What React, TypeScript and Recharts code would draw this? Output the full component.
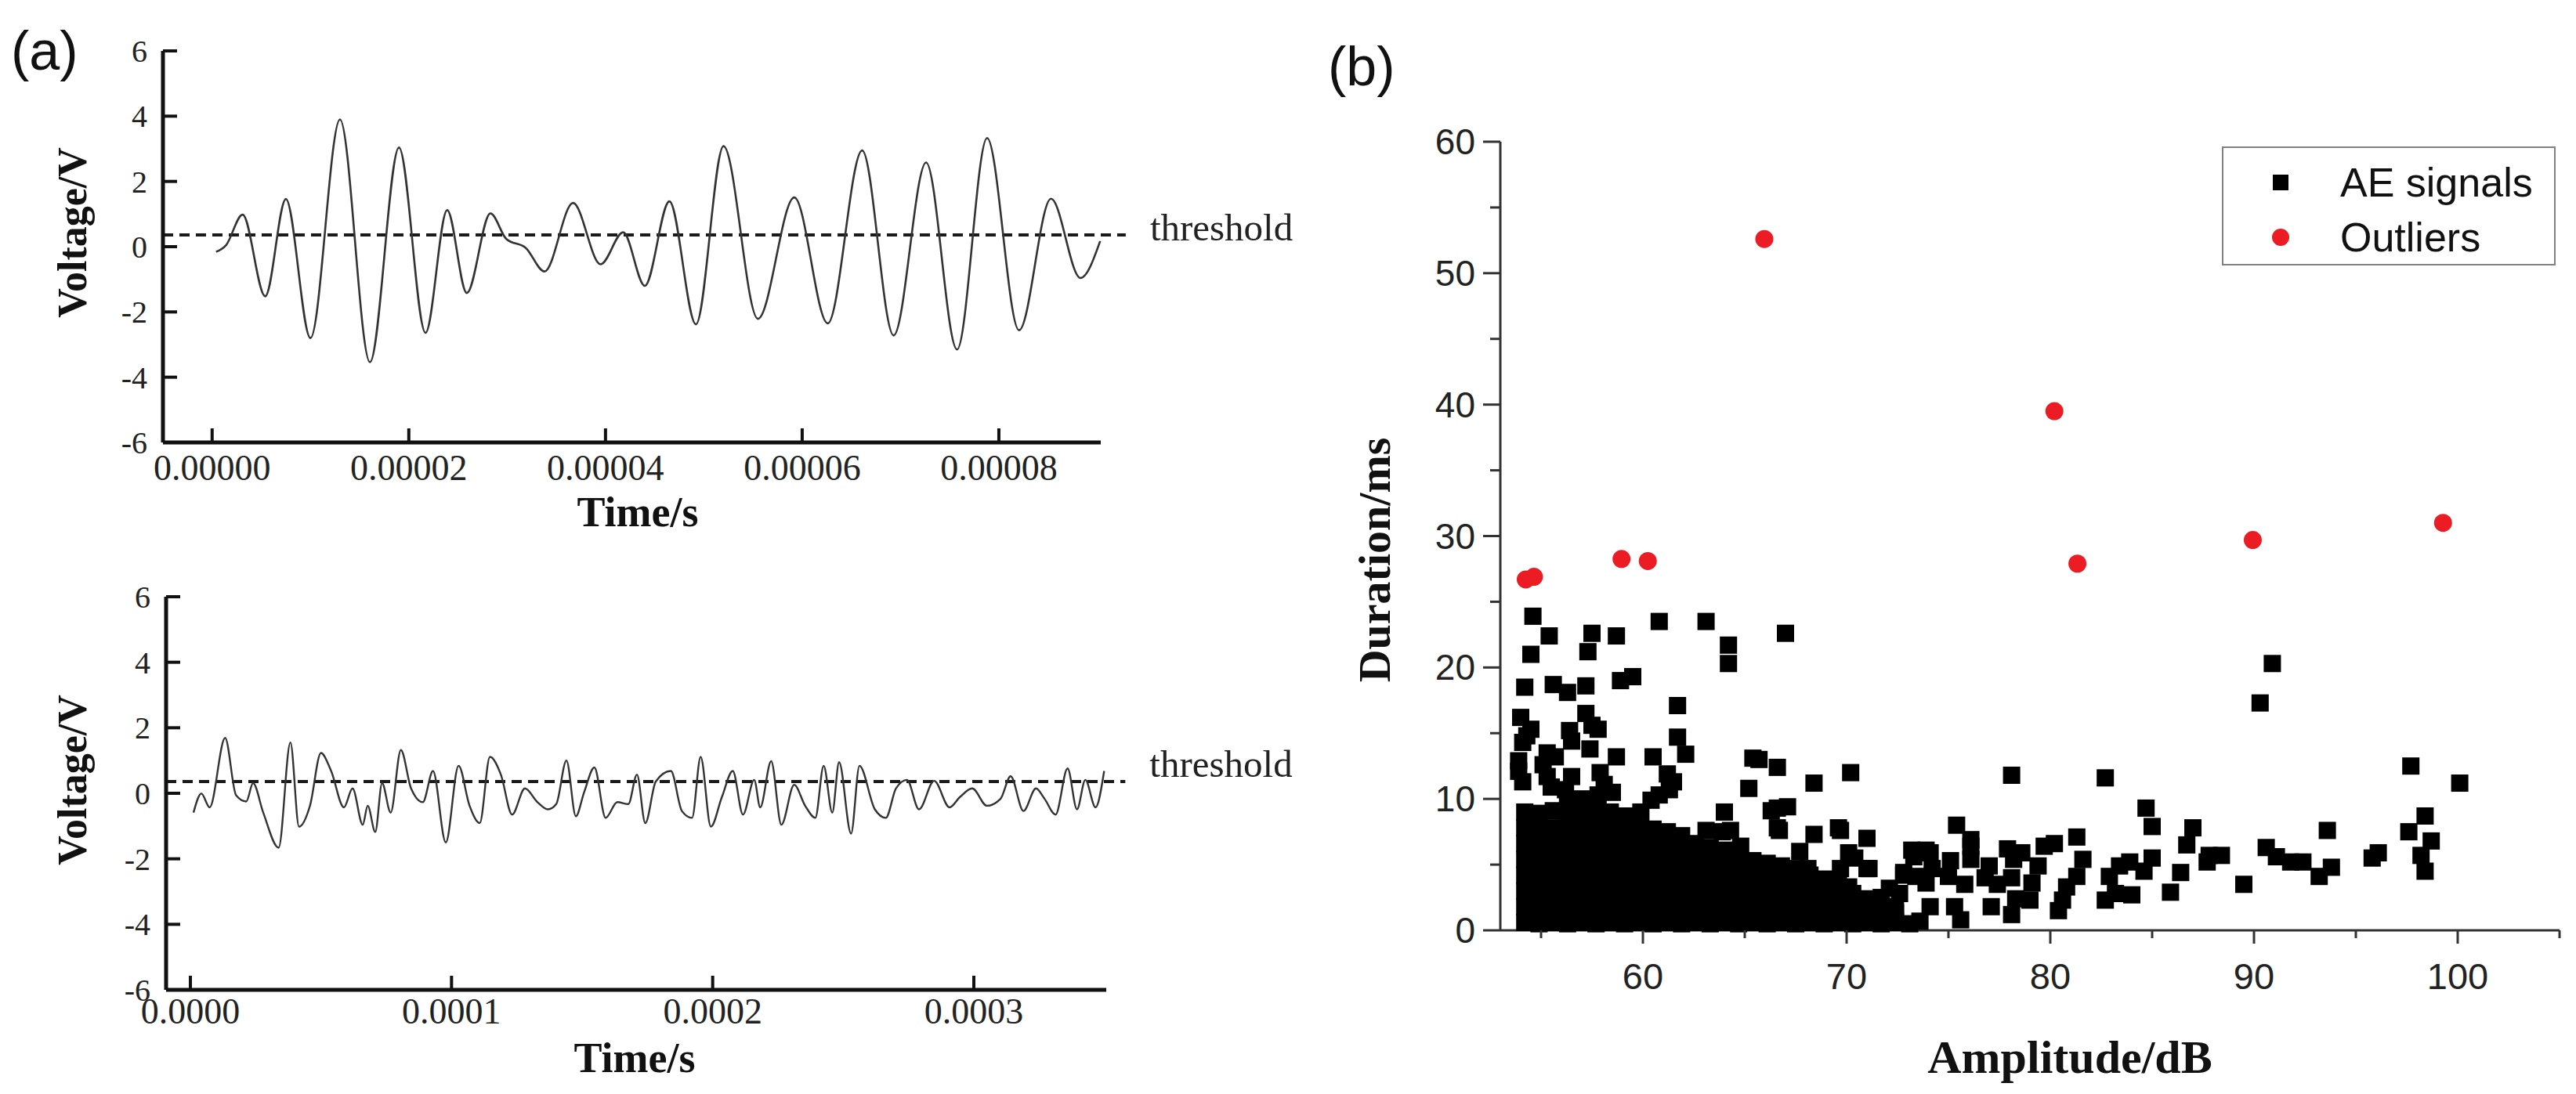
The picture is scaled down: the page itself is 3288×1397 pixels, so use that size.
import React from "react";
import {
  LineChart,
  Line,
  XAxis,
  YAxis,
  ReferenceLine,
  ScatterChart,
  Scatter,
  Legend
} from "recharts";

const SERIF = "'Liberation Serif', 'Times New Roman', serif";
const SANS = "'Liberation Sans', Arial, sans-serif";

// (a) upper waveform, time in microseconds
const topTimeUs = [
  0.4, 1.4, 3.1, 5.4, 7.5, 10.0, 13.0, 16.05, 19.0, 21.7, 23.9, 25.9, 28.3,
  29.9, 31.9, 33.8, 36.7, 39.5, 41.8, 44.0, 46.5, 49.2, 52.0, 55.5, 59.2,
  62.6, 66.1, 69.3, 72.6, 75.75, 78.8, 82.05, 85.3, 88.3, 90.3
];
const topVoltage = [
  -0.16, 0.04, 0.98, -1.52, 1.46, -2.8, 3.9, -3.54, 3.04, -2.64, 1.12, -1.42,
  1.02, 0.24, -0.04, -0.76, 1.34, -0.54, 0.44, -1.2, 1.39, -2.38, 3.08, -2.21,
  1.51, -2.35, 2.95, -2.72, 2.58, -3.15, 3.33, -2.56, 1.47, -0.96, 0.17
];

// (a) lower waveform, time in microseconds
const bottomTimeUs = [
  1.2, 4.2, 7.4, 13.3, 17.5, 21.4, 24.0, 27.9, 33.8, 38.3, 41.6, 45.8, 50.0,
  53.9, 58.8, 62.1, 66.0, 67.9, 70.8, 73.4, 76.7, 80.6, 84.5, 89.0, 92.9,
  97.8, 102.7, 106.9, 110.8, 114.7, 118.9, 123.2, 128.1, 132.9, 136.9, 140.1,
  144.0, 147.6, 150.8, 154.7, 159.0, 163.5, 167.7, 171.0, 174.2, 178.2, 184.0,
  188.2, 192.1, 195.4, 199.3, 203.5, 207.7, 211.6, 215.9, 218.2, 222.4, 226.3,
  231.2, 235.4, 239.3, 242.5, 245.8, 248.4, 253.0, 256.2, 262.1, 266.3, 270.2,
  274.4, 279.0, 284.8, 290.7, 294.6, 299.4, 305.0, 310.2, 314.1, 319.0, 323.8,
  327.1, 331.3, 335.9, 339.5, 342.7, 346.6, 349.9
];
const bottomVoltage = [
  -0.59, -0.01, -0.43, 1.69, -0.06, -0.25, 0.31, -0.59, -1.66, 1.55, -1.02,
  -0.38, 1.23, 0.68, -0.43, 0.15, -0.96, -0.38, -1.18, 0.31, -0.59, 1.32, 0.15,
  -0.27, 0.68, -1.5, 0.84, -0.38, -0.91, 1.11, 0.57, -0.65, 0.15, -0.27, -0.49,
  -0.33, 1.0, -0.7, 0.04, 0.79, -0.75, -0.27, -0.33, 0.57, -0.91, 0.36, 0.68,
  -0.54, -0.75, 1.11, -1.02, -0.12, 0.68, -0.65, 0.41, -0.43, 0.98, -0.96,
  0.26, -0.38, -0.75, 0.84, -0.59, 0.95, -1.23, 0.84, -0.49, -0.75, 0.15, 0.41,
  -0.49, 0.38, -0.43, -0.12, 0.15, -0.38, -0.17, 0.52, -0.54, 0.15, -0.17,
  -0.65, 0.76, -0.49, 0.41, -0.43, 0.68
];

const thresholdV = 0.36;
const voltTicks = [-6, -4, -2, 0, 2, 4, 6];
const topTimeTicks = [0, 20, 40, 60, 80];
const bottomTimeTicks = [0, 100, 200, 300];

// (b) AE signals: dense cluster, columns of [amplitude dB, durations ms]
const aeClusterColumns: [number, number[]][] = [
  [54.2, [0.6, 1.8, 3.0, 4.2, 5.4, 6.6, 7.8, 9.0]],
  [54.9, [0.5, 1.7, 2.9, 4.1, 5.3, 6.5, 7.7, 8.9]],
  [55.6, [0.6, 1.8, 3.0, 4.2, 5.4, 6.6, 7.8, 9.1]],
  [56.3, [0.5, 1.7, 2.9, 4.1, 5.3, 6.5, 7.7, 8.9, 9.6]],
  [57.0, [0.6, 1.8, 3.0, 4.2, 5.4, 6.6, 7.8, 9.0, 10.0]],
  [57.7, [0.5, 1.7, 2.9, 4.1, 5.3, 6.5, 7.7, 8.9, 9.8]],
  [58.4, [0.6, 1.8, 3.0, 4.2, 5.4, 6.6, 7.8, 9.0]],
  [59.1, [0.5, 1.7, 2.9, 4.1, 5.3, 6.5, 7.7, 8.7]],
  [59.8, [0.6, 1.8, 3.0, 4.2, 5.4, 6.6, 7.6, 8.2]],
  [60.5, [0.5, 1.7, 2.9, 4.1, 5.3, 6.5, 7.7]],
  [61.2, [0.6, 1.8, 3.0, 4.2, 5.4, 6.5, 7.5]],
  [61.9, [0.5, 1.7, 2.9, 4.1, 5.3, 6.4, 7.2]],
  [62.6, [0.6, 1.8, 3.0, 4.2, 5.4, 6.6]],
  [63.3, [0.5, 1.7, 2.9, 4.1, 5.3, 6.3]],
  [64.0, [0.6, 1.8, 3.0, 4.2, 5.4, 6.1]],
  [64.7, [0.5, 1.7, 2.9, 4.1, 5.2, 5.8]],
  [65.4, [0.6, 1.8, 3.0, 4.2, 5.3]],
  [66.1, [0.5, 1.7, 2.9, 4.1, 5.1]],
  [66.8, [0.6, 1.8, 3.0, 4.2, 4.9]],
  [67.5, [0.5, 1.7, 2.9, 4.0, 4.7]],
  [68.2, [0.6, 1.8, 3.0, 4.2]],
  [68.9, [0.5, 1.7, 2.9, 3.9]],
  [69.6, [0.6, 1.8, 3.0, 3.5]],
  [70.3, [0.5, 1.7, 2.8]],
  [71.0, [0.6, 1.8, 2.4]],
  [71.7, [0.5, 1.6]],
  [72.4, [0.6, 1.3]],
  [73.1, [0.5]]
];

// (b) AE signals: scattered points [amplitude dB, duration ms]
const aeScattered: [number, number][] = [
  [54.6, 23.9], [54.5, 21.0], [55.4, 22.4], [57.5, 22.6], [57.3, 21.2],
  [58.7, 22.4], [60.8, 23.5], [63.1, 23.5], [64.2, 21.7], [64.2, 20.3],
  [67.0, 22.6], [54.2, 18.5], [55.6, 18.7], [56.3, 18.1], [57.2, 18.6],
  [58.9, 19.0], [59.5, 19.3], [61.7, 17.1], [54.0, 16.2], [54.3, 14.8],
  [54.5, 15.3], [57.2, 16.5], [57.5, 15.6], [57.8, 15.3], [56.4, 15.2],
  [56.5, 14.4], [57.4, 13.8], [54.1, 14.3], [61.7, 14.7], [62.1, 13.4],
  [58.7, 13.2], [60.5, 13.2], [65.4, 13.1], [65.7, 13.0], [66.6, 12.4],
  [61.2, 11.9], [70.2, 12.0], [68.4, 11.2], [65.2, 10.8], [53.9, 12.9],
  [54.1, 11.3], [53.9, 12.1], [55.3, 13.5], [55.7, 13.2], [55.1, 12.6],
  [55.3, 11.7], [55.5, 10.9], [56.5, 11.7], [56.2, 10.7], [57.9, 12.0],
  [58.1, 11.1], [57.8, 10.3], [58.5, 10.5], [60.8, 10.3], [61.3, 10.7],
  [61.5, 11.3], [60.4, 9.9], [59.9, 9.0], [64.0, 9.0], [66.6, 9.3],
  [67.1, 9.4], [66.3, 9.1], [63.1, 7.6], [63.9, 7.5], [64.3, 7.6],
  [64.8, 6.4], [66.6, 7.8], [66.7, 7.6], [68.4, 7.3], [69.6, 7.8],
  [69.7, 7.6], [71.0, 7.0], [70.4, 5.5], [71.0, 4.7], [70.1, 5.9],
  [71.1, 4.7], [67.7, 6.0], [68.1, 4.7], [69.7, 4.7], [69.1, 3.3],
  [75.4, 8.0], [76.1, 6.9], [73.2, 6.1], [73.9, 6.1], [72.8, 4.2],
  [74.1, 5.9], [73.8, 6.0], [74.2, 4.7], [73.9, 3.6], [73.4, 4.1],
  [73.3, 5.6], [72.8, 4.4], [72.6, 2.8], [72.4, 1.8], [74.1, 1.8],
  [73.6, 0.7], [72.1, 3.2], [71.7, 2.5], [71.6, 1.8], [71.4, 0.8],
  [70.9, 2.0], [70.5, 1.0], [70.1, 3.3], [69.9, 1.8], [69.3, 0.7],
  [75.1, 5.3], [75.0, 4.1], [75.3, 1.8], [75.6, 0.8], [75.8, 3.5],
  [76.1, 6.4], [76.1, 5.4], [76.8, 4.0], [77.0, 4.9], [77.1, 1.8],
  [77.4, 3.5], [77.9, 6.2], [78.2, 5.4], [78.1, 4.0], [78.3, 2.4],
  [78.1, 1.2], [78.6, 5.9], [79.7, 6.4], [80.2, 6.6], [79.4, 4.9],
  [79.1, 3.6], [79.0, 2.3], [80.8, 3.3], [80.6, 2.3], [80.4, 1.5],
  [81.3, 7.1], [81.6, 5.4], [81.3, 4.1], [82.7, 2.3], [83.2, 2.8],
  [84.0, 2.7], [82.9, 4.1], [83.4, 4.9], [83.9, 5.2], [84.7, 9.3],
  [85.0, 7.9], [85.0, 5.5], [84.6, 4.5], [86.4, 4.4], [85.9, 2.9],
  [87.0, 7.8], [86.7, 6.5], [87.8, 5.7], [88.4, 5.7], [87.7, 5.2],
  [89.5, 3.5], [90.6, 6.3], [91.1, 5.6], [91.8, 5.2], [92.4, 5.2],
  [93.2, 4.1], [93.8, 4.8], [93.6, 7.6], [95.8, 5.5], [96.1, 5.9],
  [97.6, 7.5], [98.4, 8.7], [98.7, 6.8], [98.2, 5.7], [98.4, 4.5],
  [97.7, 12.5], [100.1, 11.2], [90.3, 17.3], [90.9, 20.3], [78.1, 11.8],
  [82.7, 11.6]
];

const outliers: [number, number][] = [
  [54.25, 26.7], [54.65, 26.9], [58.95, 28.25], [60.24, 28.1], [65.96, 52.6],
  [80.2, 39.5], [81.33, 27.9], [89.94, 29.7], [99.28, 31.0]
];

const durationTicks = [0, 5, 10, 15, 20, 25, 30, 35, 40, 45, 50, 55, 60];
const amplitudeTicks = [55, 60, 65, 70, 75, 80, 85, 90, 95, 100, 105];

const topData = topTimeUs.map((t, i) => ({ t, v: topVoltage[i] }));
const bottomData = bottomTimeUs.map((t, i) => ({ t, v: bottomVoltage[i] }));
const aeData = [
  ...aeClusterColumns.flatMap(([amp, durs]) => durs.map((dur) => ({ amp, dur }))),
  ...aeScattered.map(([amp, dur]) => ({ amp, dur }))
];
const outlierData = outliers.map(([amp, dur]) => ({ amp, dur }));

const VoltTick = (props: any) => {
  const { x, y, payload } = props;
  return (
    <g>
      <line x1={x + 20} x2={x + 38} y1={y} y2={y} stroke="#111" strokeWidth={4} />
      <text x={x} y={y} dy={14} textAnchor="end" fontFamily={SERIF} fontSize={40} fill="#222">
        {payload.value}
      </text>
    </g>
  );
};

const timeTick = (digits: number, below: number) => (props: any) => {
  const { x, y, payload } = props;
  return (
    <g>
      <line x1={x} x2={x} y1={y} y2={y - 18} stroke="#111" strokeWidth={4} />
      <text x={x} y={y + below} textAnchor="middle" fontFamily={SERIF} fontSize={46} fill="#222">
        {(payload.value * 1e-6).toFixed(digits)}
      </text>
    </g>
  );
};

const DurationTick = (props: any) => {
  const { x, y, payload } = props;
  const major = payload.value % 10 === 0;
  return (
    <g>
      <line x1={x - (major ? 22 : 13)} x2={x} y1={y} y2={y} stroke="#333" strokeWidth={3} />
      {major && (
        <text x={x - 32} y={y} dy={16} textAnchor="end" fontFamily={SANS} fontSize={46} fill="#222">
          {payload.value}
        </text>
      )}
    </g>
  );
};

const AmplitudeTick = (props: any) => {
  const { x, y, payload } = props;
  const major = payload.value % 10 === 0 && payload.value <= 100;
  return (
    <g>
      <line x1={x} x2={x} y1={y} y2={y + (major ? 17 : 10)} stroke="#333" strokeWidth={3} />
      {major && (
        <text x={x} y={y + 75} textAnchor="middle" fontFamily={SANS} fontSize={47} fill="#222">
          {payload.value}
        </text>
      )}
    </g>
  );
};

const titleLabel = (text: string, px: number, py: number, size: number, rotate = false) => () => (
  <text
    x={px}
    y={py}
    transform={rotate ? `rotate(-90 ${px} ${py})` : undefined}
    textAnchor="middle"
    dominantBaseline={rotate ? "central" : "auto"}
    fontFamily={SERIF}
    fontWeight="bold"
    fontSize={size}
    fill="#111"
  >
    {text}
  </text>
);

const ThresholdLabel = (props: any) => {
  const { viewBox, shiftY } = props;
  return (
    <text
      x={viewBox.x + viewBox.width + 31}
      y={viewBox.y + shiftY}
      fontFamily={SERIF}
      fontSize={49}
      fill="#222"
    >
      threshold
    </text>
  );
};

const square = (p: any) => (
  <rect x={p.cx - 11} y={p.cy - 11} width={22} height={22} fill="#000" />
);
const dot = (p: any) => <circle cx={p.cx} cy={p.cy} r={11.5} fill="#ec1c24" />;

const LegendBox = () => (
  <svg width={426} height={152}>
    <rect x={1} y={1} width={424} height={150} fill="#fff" stroke="#808080" strokeWidth={2} />
    <rect x={65} y={36} width={20} height={20} fill="#000" />
    <text x={151} y={46} dy={18} fontFamily={SANS} fontSize={52} fill="#111">
      AE signals
    </text>
    <circle cx={75} cy={116} r={11} fill="#ec1c24" />
    <text x={151} y={116} dy={18} fontFamily={SANS} fontSize={52} fill="#111">
      Outliers
    </text>
  </svg>
);

const panelLetter = (text: string, left: number, top: number) => (
  <div
    style={{
      position: "absolute",
      left,
      top,
      fontFamily: SANS,
      fontSize: 70,
      lineHeight: "70px",
      color: "#111"
    }}
  >
    {text}
  </div>
);

export default function App() {
  return (
    <div
      style={{
        position: "absolute",
        left: 0,
        top: 0,
        width: 3288,
        height: 1397,
        background: "#fff",
        overflow: "hidden"
      }}
    >
      {panelLetter("(a)", 14, 30)}
      {panelLetter("(b)", 1695, 50)}

      <div style={{ position: "absolute", left: 0, top: 0 }}>
        <LineChart
          width={1720}
          height={700}
          data={topData}
          margin={{ top: 65, right: 315, bottom: 134, left: 207 }}
        >
          <XAxis
            dataKey="t"
            type="number"
            domain={[-5, 90.36]}
            ticks={topTimeTicks}
            interval={0}
            height={1}
            tickSize={0}
            tickMargin={0}
            tickLine={false}
            axisLine={{ stroke: "#111", strokeWidth: 5 }}
            tick={timeTick(5, 48)}
            label={titleLabel("Time/s", 814, 672, 54)}
          />
          <YAxis
            type="number"
            domain={[-6, 6]}
            ticks={voltTicks}
            interval={0}
            width={1}
            tickSize={0}
            tickMargin={20}
            tickLine={false}
            axisLine={{ stroke: "#111", strokeWidth: 5 }}
            tick={<VoltTick />}
            label={titleLabel("Voltage/V", 92, 297, 52, true)}
          />
          <ReferenceLine
            segment={[
              { x: -5, y: thresholdV },
              { x: 92.9, y: thresholdV }
            ]}
            ifOverflow="visible"
            stroke="#1a1a1a"
            strokeWidth={4}
            strokeDasharray="13 8"
            label={<ThresholdLabel shiftY={7} />}
          />
          <Line
            dataKey="v"
            type="monotone"
            stroke="#333"
            strokeWidth={2.6}
            dot={false}
            isAnimationActive={false}
          />
        </LineChart>
      </div>

      <div style={{ position: "absolute", left: 0, top: 700 }}>
        <LineChart
          width={1720}
          height={697}
          data={bottomData}
          margin={{ top: 62, right: 308, bottom: 132, left: 211 }}
        >
          <XAxis
            dataKey="t"
            type="number"
            domain={[-9.3, 350.7]}
            ticks={bottomTimeTicks}
            interval={0}
            height={1}
            tickSize={0}
            tickMargin={0}
            tickLine={false}
            axisLine={{ stroke: "#111", strokeWidth: 5 }}
            tick={timeTick(4, 43)}
            label={titleLabel("Time/s", 810, 669, 54)}
          />
          <YAxis
            type="number"
            domain={[-6, 6]}
            ticks={voltTicks}
            interval={0}
            width={1}
            tickSize={0}
            tickMargin={20}
            tickLine={false}
            axisLine={{ stroke: "#111", strokeWidth: 5 }}
            tick={<VoltTick />}
            label={titleLabel("Voltage/V", 92, 296, 52, true)}
          />
          <ReferenceLine
            segment={[
              { x: -9.3, y: thresholdV },
              { x: 358, y: thresholdV }
            ]}
            ifOverflow="visible"
            stroke="#1a1a1a"
            strokeWidth={4}
            strokeDasharray="13 8"
            label={<ThresholdLabel shiftY={-6} />}
          />
          <Line
            dataKey="v"
            type="monotone"
            stroke="#333"
            strokeWidth={2.4}
            dot={false}
            isAnimationActive={false}
          />
        </LineChart>
      </div>

      <div style={{ position: "absolute", left: 1640, top: 0 }}>
        <ScatterChart
          width={1648}
          height={1397}
          margin={{ top: 181, right: 21, bottom: 208, left: 274 }}
        >
          <XAxis
            dataKey="amp"
            type="number"
            domain={[53, 105]}
            ticks={amplitudeTicks}
            interval={0}
            height={1}
            tickSize={0}
            tickMargin={0}
            tickLine={false}
            axisLine={{ stroke: "#333", strokeWidth: 3 }}
            tick={<AmplitudeTick />}
            label={titleLabel("Amplitude/dB", 1002, 1370, 60)}
          />
          <YAxis
            dataKey="dur"
            type="number"
            domain={[0, 60]}
            ticks={durationTicks}
            interval={0}
            width={1}
            tickSize={0}
            tickMargin={0}
            tickLine={false}
            axisLine={{ stroke: "#333", strokeWidth: 3 }}
            tick={<DurationTick />}
            label={titleLabel("Duration/ms", 114, 715, 58, true)}
          />
          <Legend
            verticalAlign="middle"
            align="center"
            layout="horizontal"
            wrapperStyle={{ position: "absolute", left: 1196, top: 187, width: 426, height: 152 }}
            content={() => <LegendBox />}
          />
          <Scatter name="AE signals" data={aeData} shape={square} isAnimationActive={false} />
          <Scatter name="Outliers" data={outlierData} shape={dot} isAnimationActive={false} />
        </ScatterChart>
      </div>
    </div>
  );
}
